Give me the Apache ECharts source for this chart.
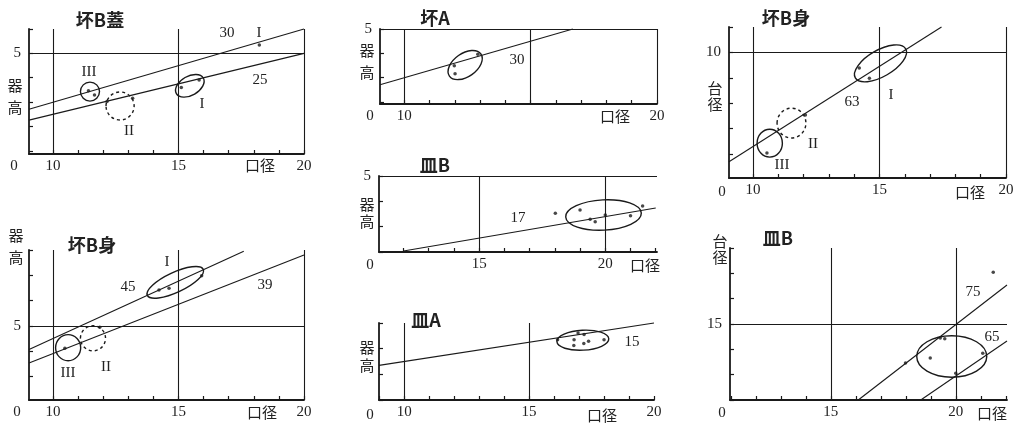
<!DOCTYPE html>
<html><head><meta charset="utf-8">
<script src="https://cdn.jsdelivr.net/npm/echarts@6/dist/echarts.min.js"></script>
<style>html,body{margin:0;padding:0;background:#fff}#c{width:1022px;height:424px}</style>
</head><body><div id="c"></div>
<script>
// ================= DATA =================
const titles = ['坏B蓋', '坏B身', '坏A', '皿B', '皿A', '坏B身', '皿B'];
const yAxisNames = ['器高', '器高', '器高', '器高', '器高', '台径', '台径'];
const xAxisName = '口径';
const originLabel = '0';

// labelled tick values on each panel
const xTickLabels = [[10, 15, 20], [10, 15, 20], [10, 20], [15, 20], [10, 15, 20], [10, 15, 20], [15, 20]];
const yTickLabels = [[5], [5], [5], [5], [], [10], [15]];

// measured points [口径, 器高 / 台径]
const pts1 = [[11.41, 3.47], [11.65, 3.29], [12.15, 3.02], [13.17, 3.16], [15.11, 3.60], [15.82, 3.91], [18.22, 5.34]];
const pts2 = [[14.22, 6.42], [14.62, 6.49], [15.92, 6.98], [10.47, 4.12], [11.86, 4.95]];
const pts3 = [[11.98, 3.49], [12.01, 3.16], [12.91, 3.96]];
const pts4 = [[18.02, 3.53], [19.00, 3.66], [19.40, 3.29], [19.60, 3.19], [20.00, 3.46], [21.00, 3.43], [21.48, 3.82]];
const pts5 = [[16.14, 2.35], [16.96, 2.61], [17.20, 2.55], [16.80, 2.35], [16.79, 2.12], [17.19, 2.20], [17.38, 2.29], [18.00, 2.35]];
const pts6 = [[14.20, 9.39], [14.60, 8.98], [10.55, 6.04], [12.07, 7.54]];
const pts7 = [[21.50, 17.04], [17.99, 13.46], [18.98, 13.66], [19.38, 14.45], [19.56, 14.42], [20.00, 13.06], [21.08, 13.85]];

// ratio lines (end points)
const lines1 = [[[9.04, 2.71], [20, 6.0]], [[9.04, 2.26], [20, 5.0]]];      // 30, 25
const lines2 = [[[9.04, 4.07], [17.6, 7.95]], [[9.04, 3.53], [20, 7.8]]];   // 45, 39
const lines3 = [[[9.04, 2.71], [16.67, 5.0]]];                              // 30
const lines4 = [[[12.0, 2.04], [22.0, 3.74]]];                              // 17
const lines5 = [[[8.99, 1.35], [20, 3.0]]];                                 // 15
const lines6 = [[[9.05, 5.70], [17.45, 11.0]]];                             // 63
const lines7 = [[[16.1, 12.0], [22.05, 16.54]], [[18.6, 12.0], [22.05, 14.33]]]; // 75, 65

// group outlines [cx, cy, semi-axis a, semi-axis b (口径 units), tilt deg, dashed]
const groups1 = [[11.47, 3.43, 0.38, 0.38, 0, 0], [12.67, 2.84, 0.56, 0.56, 0, 1], [15.45, 3.67, 0.62, 0.38, 30, 0]];
const groups2 = [[14.87, 6.72, 1.23, 0.40, 25, 0], [10.60, 4.14, 0.50, 0.52, 0, 0], [11.59, 4.51, 0.50, 0.50, 0, 1]];
const groups3 = [[12.41, 3.52, 0.76, 0.46, 35, 0]];
const groups4 = [[19.93, 3.46, 1.50, 0.60, 3, 0]];
const groups5 = [[17.15, 2.33, 1.04, 0.40, 3, 0]];
const groups6 = [[15.04, 9.57, 1.15, 0.52, 30, 0], [10.66, 6.43, 0.50, 0.55, 0, 0], [11.52, 7.22, 0.57, 0.59, 0, 1]];
const groups7 = [[19.84, 13.72, 1.40, 0.83, 0, 0]];

// ================= LAYOUT =================
const panels = [
  { grid: { left: 29, top: 29, width: 275, height: 125 }, x: [9.04, 20], y: [0.87, 6.0], refX: [10, 15, 20], refY: [5], pts: pts1, lines: lines1, groups: groups1 },
  { grid: { left: 29, top: 250, width: 275, height: 150 }, x: [9.04, 20], y: [2.07, 8.0], refX: [10, 15, 20], refY: [5], pts: pts2, lines: lines2, groups: groups2 },
  { grid: { left: 380, top: 29, width: 277, height: 75 }, x: [9.04, 20], y: [1.92, 5], refX: [10, 15, 20], refY: [5], pts: pts3, lines: lines3, groups: groups3 },
  { grid: { left: 379, top: 176, width: 278, height: 76 }, x: [11.03, 22.05], y: [2, 5], refX: [15, 20], refY: [5], pts: pts4, lines: lines4, groups: groups4 },
  { grid: { left: 379, top: 323, width: 275, height: 77 }, x: [8.99, 20], y: [0, 3], refX: [10, 15], refY: [], pts: pts5, lines: lines5, groups: groups5 },
  { grid: { left: 729, top: 27, width: 277, height: 151 }, x: [9.05, 20], y: [5.06, 11.0], refX: [10, 15, 20], refY: [10], pts: pts6, lines: lines6, groups: groups6 },
  { grid: { left: 730, top: 248, width: 277, height: 152 }, x: [10.97, 22.05], y: [12, 18], refX: [15, 20], refY: [15], pts: pts7, lines: lines7, groups: groups7 }
];
const titlePos = [[100, 20], [92, 245], [435, 18], [435, 165], [426, 320], [786, 18], [778, 238]];
const yNamePos = [[15, 96, 22], [16, 246, 22], [367, 61, 22], [367, 213, 17], [367, 356, 18], [715, 96, 16], [720, 249, 16]];
const originPos = [[14, 166], [17, 412], [370, 116], [370, 265], [370, 415], [722, 192], [722, 413]];
const xNamePos = [[260, 165], [262, 412], [615, 116], [645, 265], [602, 415], [970, 192], [992, 413]];
const notes = [
  ['30', 227, 33], ['I', 259, 33], ['25', 260, 80], ['III', 89, 72], ['II', 129, 131], ['I', 202, 104],
  ['I', 167, 262], ['45', 128, 287], ['39', 265, 285], ['III', 68, 373], ['II', 106, 367],
  ['30', 517, 60], ['17', 518, 218], ['15', 632, 342],
  ['63', 852, 102], ['I', 891, 95], ['II', 813, 144], ['III', 782, 165],
  ['75', 973, 292], ['65', 992, 337]
];

const INK = '#1a1a1a';
const SERIF = '"Liberation Serif", "DejaVu Serif", serif';
const CJK = '"Noto Sans CJK JP", "Noto Sans CJK SC", sans-serif';

function ints(a, b) { const r = []; for (let v = Math.ceil(a); v <= Math.floor(b) + 1e-9; v++) r.push(v); return r; }

function renderEllipse(params, api) {
  const c = api.coord([api.value(0), api.value(1)]);
  const s = api.size([1, 1]);
  const a = api.value(2) * s[0];
  const b = api.value(3) * s[0];
  return {
    type: 'ellipse',
    x: c[0], y: c[1],
    rotation: api.value(4) * Math.PI / 180,
    shape: { cx: 0, cy: 0, rx: a, ry: b },
    style: { fill: 'none', stroke: INK, lineWidth: 1.4, lineDash: api.value(5) ? [3, 3] : null }
  };
}

const grid = [], xAxis = [], yAxis = [], series = [];
panels.forEach((p, i) => {
  grid.push(Object.assign({ containLabel: false }, p.grid));
  xAxis.push({
    gridIndex: i, type: 'value', min: p.x[0], max: p.x[1],
    axisLine: { show: true, onZero: false, lineStyle: { color: INK, width: 1.8 } },
    axisTick: { show: true, inside: true, length: 4, customValues: ints(p.x[0], p.x[1]), lineStyle: { color: INK, width: 1.2 } },
    axisLabel: { customValues: xTickLabels[i], margin: 5, fontFamily: SERIF, fontSize: 15, color: '#222', showMinLabel: true, showMaxLabel: true },
    splitLine: { show: false }
  });
  yAxis.push({
    gridIndex: i, type: 'value', min: p.y[0], max: p.y[1],
    axisLine: { show: true, onZero: false, lineStyle: { color: INK, width: 1.8 } },
    axisTick: { show: true, inside: true, length: 4, customValues: ints(p.y[0], p.y[1]), lineStyle: { color: INK, width: 1.2 } },
    axisLabel: { show: yTickLabels[i].length > 0, customValues: yTickLabels[i].length ? yTickLabels[i] : [p.y[0]], margin: 8, fontFamily: SERIF, fontSize: 15, color: '#222', showMinLabel: true, showMaxLabel: true },
    splitLine: { show: false }
  });
  series.push({
    type: 'scatter', xAxisIndex: i, yAxisIndex: i, data: p.pts, symbolSize: 3.5,
    itemStyle: { color: INK }, silent: true, z: 5,
    markLine: {
      silent: true, symbol: 'none', animation: false, label: { show: false },
      lineStyle: { color: INK, width: 1.1, type: 'solid' }, emphasis: { disabled: true },
      data: [...p.refX.map(v => ({ xAxis: v })), ...p.refY.map(v => ({ yAxis: v }))]
    }
  });
  p.lines.forEach(l => series.push({
    type: 'line', xAxisIndex: i, yAxisIndex: i, data: l, symbol: 'none', showSymbol: false,
    lineStyle: { color: INK, width: 1.1 }, silent: true, clip: false, z: 3
  }));
  series.push({
    type: 'custom', xAxisIndex: i, yAxisIndex: i, data: p.groups, renderItem: renderEllipse,
    encode: { x: 0, y: 1 }, clip: false, silent: true, z: 4
  });
});

const graphic = [];
function txt(text, x, y, font, extra) {
  graphic.push({ type: 'text', x: x, y: y, silent: true, z: 100,
    style: Object.assign({ text: text, fill: '#222', font: font, align: 'center', verticalAlign: 'middle' }, extra || {}) });
}
titles.forEach((t, i) => txt(t, titlePos[i][0], titlePos[i][1], 'bold 18px ' + CJK));
yAxisNames.forEach((t, i) => txt(t.split('').join('\n'), yNamePos[i][0], yNamePos[i][1], '15px ' + CJK, { lineHeight: yNamePos[i][2] }));
originPos.forEach(p => txt(originLabel, p[0], p[1], '15px ' + SERIF));
xNamePos.forEach(p => txt(xAxisName, p[0], p[1], '15px ' + CJK));
notes.forEach(n => txt(n[0], n[1], n[2], '15px ' + SERIF));

const chart = echarts.init(document.getElementById('c'), null, { renderer: 'canvas' });
chart.setOption({
  animation: false,
  backgroundColor: '#fff',
  grid, xAxis, yAxis, series, graphic
});
</script>
</body></html>
